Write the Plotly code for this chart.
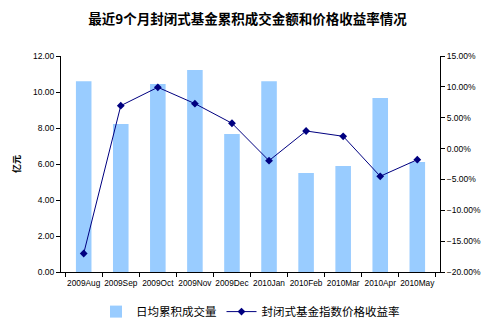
import plotly.graph_objects as go

categories = ["2009Aug", "2009Sep", "2009Oct", "2009Nov", "2009Dec",
              "2010Jan", "2010Feb", "2010Mar", "2010Apr", "2010May"]
volume = [10.6, 8.22, 10.44, 11.22, 7.67, 10.6, 5.5, 5.89, 9.67, 6.11]
returns_pct = [-17.0, 6.95, 9.93, 7.28, 4.1, -1.96, 2.85, 1.99, -4.49, -1.8]

font_fam = "Liberation Sans, Arial, Noto Sans CJK SC"

fig = go.Figure()
fig.add_trace(go.Bar(
    x=categories, y=volume, name="日均累积成交量",
    marker=dict(color="#99CCFF", line=dict(width=0)),
    yaxis="y",
))
fig.add_trace(go.Scatter(
    x=categories, y=returns_pct, name="封闭式基金指数价格收益率",
    mode="lines+markers",
    line=dict(color="#000080", width=1),
    marker=dict(symbol="diamond", size=6, color="#000080"),
    yaxis="y2",
))

fig.update_layout(
    width=495, height=328,
    margin=dict(l=61, r=55, t=56, b=56, autoexpand=False),
    paper_bgcolor="white", plot_bgcolor="white",
    font=dict(family=font_fam, size=9, color="black"),
    title=dict(text="<b>最近9个月封闭式基金累积成交金额和价格收益率情况</b>",
               x=0.5, xanchor="center", y=0.94, yanchor="middle",
               font=dict(family="Noto Sans CJK SC", size=13.5, color="black")),
    bargap=0.58,
    showlegend=True,
    legend=dict(orientation="h", x=0.5, xanchor="center",
                yref="container", y=0.05, yanchor="middle",
                font=dict(family="Noto Sans CJK SC", size=11.5), itemwidth=30,
                traceorder="normal"),
    xaxis=dict(showline=True, linecolor="black", linewidth=1,
               ticks="outside", ticklen=4, tickson="boundaries",
               tickcolor="black", showgrid=False, tickangle=0,
               automargin=False, ticklabelstandoff=3,
               tickfont=dict(size=8.3)),
    yaxis=dict(range=[0, 12], dtick=2, tickformat=".2f",
               showline=True, linecolor="black", linewidth=1,
               ticks="outside", ticklen=4, tickcolor="black",
               showgrid=False, zeroline=False, automargin=False,
               tickfont=dict(size=8.5),
               title=dict(text="<b>亿元</b>", standoff=10,
                          font=dict(family="Noto Sans CJK SC", size=9))),
    yaxis2=dict(range=[-20, 15], dtick=5, tickformat=".2f", ticksuffix="%",
                overlaying="y", side="right",
                showline=True, linecolor="black", linewidth=1,
                ticks="outside", ticklen=4, tickcolor="black",
                showgrid=False, zeroline=False, automargin=False,
                tickfont=dict(size=8.5)),
)

fig.write_html("out.html")
